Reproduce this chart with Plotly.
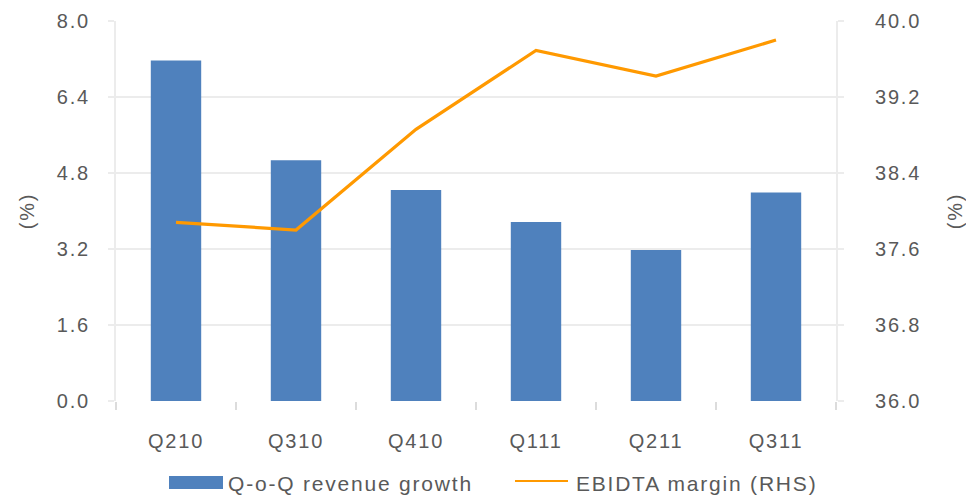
import plotly.graph_objects as go

categories = ["Q210", "Q310", "Q410", "Q111", "Q211", "Q311"]
revenue_growth = [7.17, 5.07, 4.44, 3.77, 3.18, 4.39]
ebitda_margin = [37.88, 37.80, 38.86, 39.69, 39.42, 39.80]
left_ticks = [0.0, 1.6, 3.2, 4.8, 6.4, 8.0]
right_ticks = [36.0, 36.8, 37.6, 38.4, 39.2, 40.0]
legend_names = ["Q-o-Q revenue growth", "EBIDTA margin (RHS)"]

BAR = "#4f81bd"
LINE = "#ff9900"
GRID = "#ececec"
TICK = "#dcdcdc"
TXT = "#595959"
FONT = "Liberation Sans"
FS = 20
LFS = 21
LS = 1.8  # letter spacing (px) applied by CSS

fig = go.Figure()
fig.add_trace(go.Bar(x=categories, y=revenue_growth, name=legend_names[0],
                     marker=dict(color=BAR, line=dict(width=0)), yaxis="y"))
fig.add_trace(go.Scatter(x=categories, y=ebitda_margin, name=legend_names[1],
                         mode="lines", line=dict(color=LINE, width=3.2), yaxis="y2"))

fig.update_layout(
    width=966, height=495,
    margin=dict(l=116, r=130, t=21, b=94),
    paper_bgcolor="white", plot_bgcolor="white",
    font=dict(family=FONT, size=FS, color=TXT),
    showlegend=False,
    bargap=0.58,
    xaxis=dict(type="category", tickson="boundaries", ticks="outside", ticklen=8,
               tickcolor=TICK, tickwidth=1.5, showgrid=False, showline=False, zeroline=False,
               tickfont=dict(size=FS, color=TXT), ticklabelstandoff=26, automargin=False),
    yaxis=dict(range=[0, 8], tickvals=left_ticks, ticktext=[f"{v:.1f}" for v in left_ticks],
               showgrid=True, gridcolor=GRID, gridwidth=2, zeroline=False,
               showline=True, linecolor=GRID, linewidth=2,
               ticks="outside", ticklen=6, tickcolor=GRID, tickwidth=2,
               ticklabelstandoff=14, automargin=False,
               title=dict(text="(%)", standoff=22, font=dict(size=FS, color=TXT))),
    yaxis2=dict(range=[36, 40], tickvals=right_ticks, ticktext=[f"{v:.1f}" for v in right_ticks],
                overlaying="y", side="right", showgrid=False, zeroline=False,
                showline=True, linecolor=GRID, linewidth=2,
                ticks="outside", ticklen=6, tickcolor=GRID, tickwidth=2,
                ticklabelstandoff=27, automargin=False,
                title=dict(text="(%)", standoff=38, font=dict(size=FS, color=TXT))),
)

# custom legend (annotation text is centred, so shift by half the added letter spacing)
fig.add_shape(type="rect", xref="paper", yref="paper", x0=(169-116)/720, x1=(223-116)/720,
              y0=(401-489)/380, y1=(401-476)/380, fillcolor=BAR, line=dict(width=0))
fig.add_annotation(xref="paper", yref="paper", x=(226-116)/720, y=(401-483)/380,
                   xshift=len(legend_names[0])*LS/2,
                   text=legend_names[0], showarrow=False, xanchor="left", yanchor="middle",
                   font=dict(size=LFS, color=TXT, family=FONT))
fig.add_shape(type="line", xref="paper", yref="paper", x0=(515-116)/720, x1=(568-116)/720,
              y0=(401-481)/380, y1=(401-481)/380, line=dict(color=LINE, width=2))
fig.add_annotation(xref="paper", yref="paper", x=(574-116)/720, y=(401-483)/380,
                   xshift=len(legend_names[1])*LS/2,
                   text=legend_names[1], showarrow=False, xanchor="left", yanchor="middle",
                   font=dict(size=LFS, color=TXT, family=FONT))

post = ("document.body.style.margin='0';"
        "var s=document.createElement('style');"
        "s.textContent='svg text{letter-spacing:%spx}';"
        "document.head.appendChild(s);" % LS)
fig.write_html("out.html", post_script=post, config={"displayModeBar": False})
